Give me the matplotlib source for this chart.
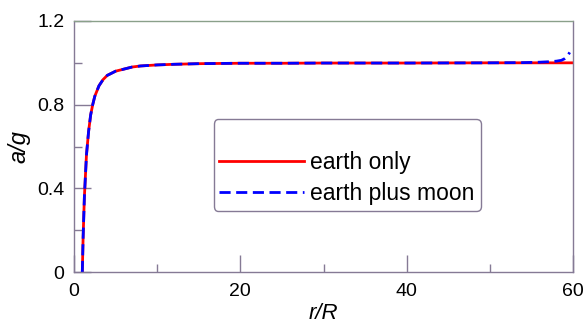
import matplotlib
matplotlib.use("Agg")
import matplotlib.pyplot as plt
from matplotlib.lines import Line2D
from matplotlib.ticker import MultipleLocator

# values
r_earth = [1.0, 1.1, 1.25, 1.5, 1.75, 2.0, 2.25, 2.5, 3.0, 3.5, 4.0, 5.0, 6.0,
           7.0, 8.0, 10.0, 12.0, 15.0, 20.0, 25.0, 30.0, 40.0, 50.0, 60.0]
g_earth = [0.0, 0.17, 0.36, 0.56, 0.67, 0.75, 0.80, 0.84, 0.89, 0.92, 0.94, 0.96, 0.97,
           0.98, 0.985, 0.99, 0.993, 0.996, 0.998, 0.998, 0.999, 0.999, 1.0, 1.0]

r_moon = r_earth[:-1] + [54.0, 56.0, 57.0, 58.0, 58.6, 59.0, 59.3, 59.6]
g_moon = g_earth[:-1] + [1.001, 1.003, 1.005, 1.008, 1.012, 1.02, 1.03, 1.05]

x_ticks = [0, 20, 40, 60]
y_ticks = [0, 0.4, 0.8, 1.2]
y_labels = ["0", "0.4", "0.8", "1.2"]

plt.rcParams["font.family"] = ["Liberation Sans", "DejaVu Sans"]
spine_col = "#857a95"

fig = plt.figure(figsize=(5.84, 3.26), dpi=100)
ax = fig.add_axes([0.1267, 0.1656, 0.8545, 0.77])

ax.plot(r_earth, g_earth, color="#ff0000", lw=2.0, solid_capstyle="butt")
ax.plot(r_moon, g_moon, color="#0000ff", lw=2.0, dashes=(4, 2))

ax.set_xlim(0, 60)
ax.set_ylim(0, 1.2)
ax.set_xticks(x_ticks)
ax.set_yticks(y_ticks)
ax.set_yticklabels(y_labels)
ax.xaxis.set_minor_locator(MultipleLocator(10))
ax.yaxis.set_minor_locator(MultipleLocator(0.2))
ax.tick_params(which="major", direction="in", length=12, width=1, color=spine_col,
               labelsize=14, top=False, right=False)
ax.tick_params(which="minor", direction="in", length=6, width=1, color=spine_col,
               top=False, right=False)
ax.tick_params(axis="x", pad=8)
ax.tick_params(axis="y", pad=7)

for side in ["left", "right", "bottom"]:
    ax.spines[side].set_color(spine_col)
    ax.spines[side].set_linewidth(1)
ax.spines["top"].set_color("#8aa08a")
ax.spines["top"].set_linestyle((0, (1.5, 1)))
ax.spines["top"].set_linewidth(1)

ax.set_xlabel("r/R", fontsize=16, style="italic")
ax.set_ylabel("a/g", fontsize=17, style="italic")
ax.xaxis.set_label_coords(0.5, -0.165)
ax.yaxis.set_label_coords(-0.11, 0.5)
ax.xaxis.label.set_va("center")
ax.yaxis.label.set_va("center")

handles = [
    Line2D([], [], color="none"),
    Line2D([], [], color="#ff0000", lw=2.0),
    Line2D([], [], color="#0000ff", lw=2.0, dashes=(4, 2)),
]
labels = [" ", "earth only", "earth plus moon"]
leg = ax.legend(handles, labels, loc="lower left", bbox_to_anchor=(0.28, 0.243),
                fontsize=16.5, handlelength=3.7, handletextpad=0.27,
                labelspacing=0.38, borderpad=0.25, borderaxespad=0,
                fancybox=True, framealpha=1)
leg.get_texts()[0].set_fontsize(4)
leg.get_frame().set_edgecolor(spine_col)
leg.get_frame().set_linewidth(1)

fig.savefig("out.png", dpi=100)
